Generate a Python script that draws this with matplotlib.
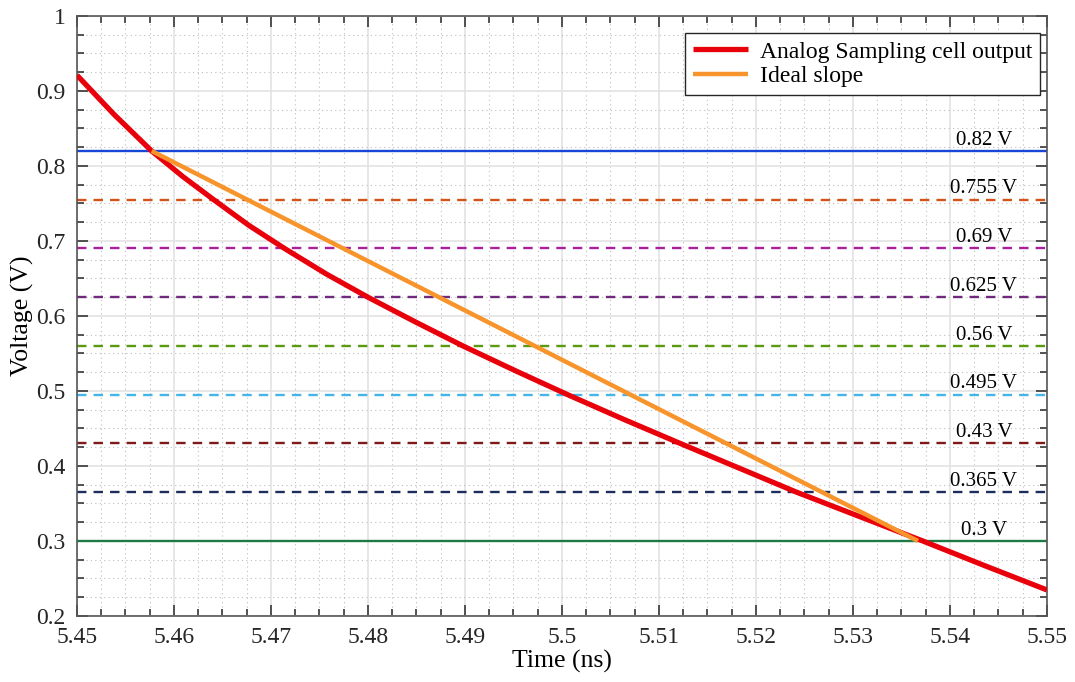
import matplotlib.pyplot as plt
from matplotlib.ticker import MultipleLocator
import numpy as np

# analog sampling cell output
t_cell = [5.4500, 5.4538, 5.4577, 5.4609, 5.4641, 5.4677, 5.4714, 5.4757, 5.4800,
          5.4849, 5.4898, 5.4952, 5.5006, 5.5064, 5.5122, 5.5182, 5.5242, 5.5307,
          5.5372, 5.5436, 5.5500]
v_cell = [0.921, 0.869, 0.820, 0.786, 0.755, 0.721, 0.690, 0.656, 0.625,
          0.592, 0.560, 0.527, 0.495, 0.462, 0.430, 0.3975, 0.365, 0.3325,
          0.300, 0.267, 0.2347]

# ideal slope
t_ideal = [5.4577, 5.5367]
v_ideal = [0.820, 0.300]

# threshold levels
levels = [0.82, 0.755, 0.69, 0.625, 0.56, 0.495, 0.43, 0.365, 0.3]
level_labels = ['0.82 V', '0.755 V', '0.69 V', '0.625 V', '0.56 V', '0.495 V',
                '0.43 V', '0.365 V', '0.3 V']
level_colors = ['#1747d6', '#d2531c', '#a8209e', '#6f2a7e', '#5a9a10', '#46b4e6',
                '#7f1a1a', '#1c2d5e', '#1e7b46']
level_styles = ['-', '--', '--', '--', '--', '--', '--', '--', '-']

x_ticks = [5.45, 5.46, 5.47, 5.48, 5.49, 5.50, 5.51, 5.52, 5.53, 5.54, 5.55]
x_ticklabels = ['5.45', '5.46', '5.47', '5.48', '5.49', '5.5', '5.51', '5.52', '5.53', '5.54', '5.55']
y_ticks = [0.2, 0.3, 0.4, 0.5, 0.6, 0.7, 0.8, 0.9, 1.0]
y_ticklabels = ['0.2', '0.3', '0.4', '0.5', '0.6', '0.7', '0.8', '0.9', '1']

plt.rcParams['font.family'] = ['Liberation Serif', 'DejaVu Serif']

fig = plt.figure(figsize=(10.75, 6.82), dpi=100)
ax = fig.add_axes([0.0716, 0.0968, 0.9023, 0.8798])

for lv, lab, c, ls in zip(levels, level_labels, level_colors, level_styles):
    if ls == '--':
        ax.axhline(lv, color=c, linewidth=1.7, linestyle=(0, (4, 3)), zorder=2)
    else:
        ax.axhline(lv, color=c, linewidth=1.7, zorder=2)
    ax.text(5.5435, lv + 0.0085, lab, ha='center', va='baseline', fontsize=15, zorder=3)

ax.plot(t_cell, v_cell, color='#e8000b', linewidth=3.8, solid_joinstyle='round',
        solid_capstyle='butt', label='Analog Sampling cell output', zorder=4)
ax.plot(t_ideal, v_ideal, color='#f7952c', linewidth=3.2, solid_capstyle='butt',
        label='Ideal slope', zorder=5)

ax.set_xlim(5.45, 5.55)
ax.set_ylim(0.2, 1.0)
ax.set_xticks(x_ticks)
ax.set_xticklabels(x_ticklabels)
ax.set_yticks(y_ticks)
ax.set_yticklabels(y_ticklabels)
ax.xaxis.set_minor_locator(MultipleLocator(0.0025))
ax.yaxis.set_minor_locator(MultipleLocator(0.025))

ax.grid(which='major', color='#e3e3e3', linewidth=1.2, linestyle='-')
ax.grid(which='minor', color='#bdbdbd', linewidth=0.8, linestyle=(0, (1, 3)))
ax.tick_params(which='both', direction='in', top=True, right=True, colors='#262626')
ax.tick_params(which='major', length=8, width=1.1, labelsize=17)
ax.tick_params(which='minor', length=5, width=1.1)
ax.tick_params(axis='x', which='major', pad=8)
ax.tick_params(axis='y', which='major', pad=8)
for s in ax.spines.values():
    s.set_color('#555555')
    s.set_linewidth(1.2)

ax.set_xlabel('Time (ns)', fontsize=18.5, labelpad=1)
ax.set_ylabel('Voltage (V)', fontsize=18.5, labelpad=2)

leg = ax.legend(loc='upper right', fontsize=17, frameon=True, fancybox=False,
                handlelength=2.3, handletextpad=0.5, borderpad=0.35, borderaxespad=0,
                labelspacing=0.12, bbox_to_anchor=(0.993, 0.972))
leg.get_frame().set_edgecolor('#262626')
leg.get_frame().set_linewidth(1.0)
leg.get_frame().set_alpha(1.0)

fig.savefig('out.png', dpi=100)
